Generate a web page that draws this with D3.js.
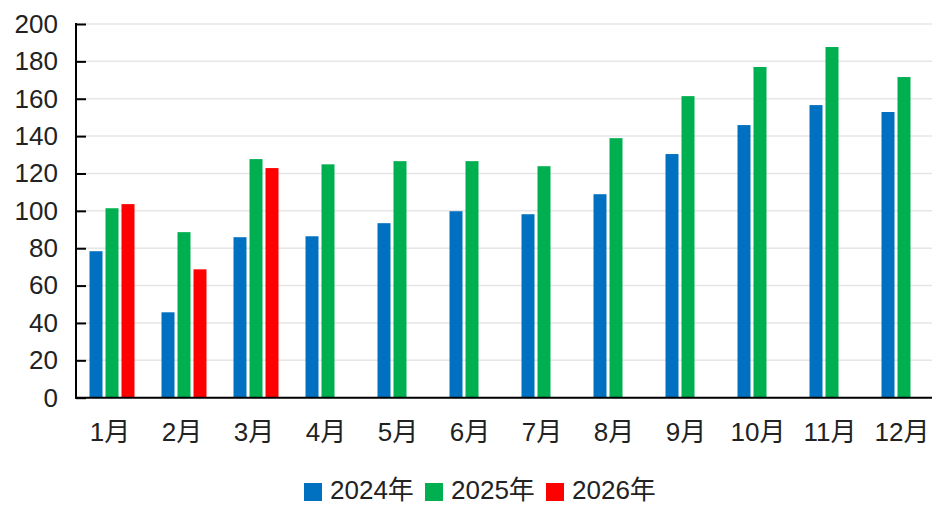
<!DOCTYPE html>
<html>
<head>
<meta charset="utf-8">
<script src="https://cdn.jsdelivr.net/npm/d3@7/dist/d3.min.js"></script>
<style>
  html, body { margin: 0; padding: 0; background: #fff; }
  svg { display: block; }
  text { font-family: "Liberation Sans", Arial, "Noto Sans CJK SC", sans-serif; fill: #222; }
</style>
</head>
<body>
<script>
const months = ["1月","2月","3月","4月","5月","6月","7月","8月","9月","10月","11月","12月"];
const seriesNames = ["2024年","2025年","2026年"];
const seriesColors = ["#0070C0","#00B050","#FF0000"];
const values2024 = [78.4, 45.7, 85.9, 86.4, 93.4, 99.8, 98.2, 108.9, 130.4, 145.9, 156.6, 152.9];
const values2025 = [101.4, 88.6, 127.7, 124.9, 126.6, 126.6, 123.9, 138.9, 161.4, 177.0, 187.7, 171.6];
const values2026 = [103.6, 68.7, 122.9, null, null, null, null, null, null, null, null, null];
const yTicks = [0, 20, 40, 60, 80, 100, 120, 140, 160, 180, 200];

const W = 932, H = 505;
const plotLeft = 76, plotTop = 24, plotBottom = 397.7, plotRight = 940;

const svg = d3.select("body").append("svg").attr("width", W).attr("height", H);

const y = d3.scaleLinear().domain([0, 200]).range([plotBottom, plotTop]);
const x0 = d3.scaleBand().domain(months).range([plotLeft, plotRight]).paddingInner(0).paddingOuter(0);
const x1 = d3.scaleBand().domain(seriesNames).range([13.5, 58.5]).paddingInner(3/16).paddingOuter(0);

// gridlines
svg.append("g").selectAll("line").data(yTicks.filter(d => d > 0)).join("line")
  .attr("x1", plotLeft).attr("x2", W)
  .attr("y1", d => y(d)).attr("y2", d => y(d))
  .attr("stroke", "#e6e6e6").attr("stroke-width", 1.5);

// bars
const seriesData = [values2024, values2025, values2026];
const flat = [];
seriesData.forEach((vals, si) => {
  vals.forEach((v, mi) => {
    if (v != null) flat.push({m: months[mi], s: seriesNames[si], v, c: seriesColors[si]});
  });
});
svg.append("g").selectAll("rect").data(flat).join("rect")
  .attr("x", d => x0(d.m) + x1(d.s))
  .attr("width", x1.bandwidth())
  .attr("y", d => y(d.v))
  .attr("height", d => y(0) - y(d.v))
  .attr("fill", d => d.c);

const fontFam = '"Liberation Sans", Arial, "Noto Sans CJK SC", sans-serif';

// y axis
const yAxis = d3.axisLeft(y).tickValues(yTicks).tickSizeInner(-10).tickSizeOuter(0).tickPadding(18);
const gy = svg.append("g").attr("transform", `translate(${plotLeft},0)`).call(yAxis);
gy.select(".domain").remove();
gy.selectAll(".tick line").attr("stroke", "#000").attr("stroke-width", 2);
gy.selectAll(".tick text").attr("font-size", 26).attr("fill", "#222").style("font-family", fontFam);
svg.append("line").attr("x1", plotLeft).attr("x2", plotLeft).attr("y1", plotTop - 1).attr("y2", plotBottom + 1)
  .attr("stroke", "#000").attr("stroke-width", 2);

// x axis
const xAxis = d3.axisBottom(x0).tickSize(0).tickPadding(25);
const gx = svg.append("g").attr("transform", `translate(-2,${plotBottom})`).call(xAxis);
gx.select(".domain").remove();
gx.selectAll(".tick text").attr("font-size", 26).attr("fill", "#222").style("font-family", fontFam);
svg.append("line").attr("x1", plotLeft - 1).attr("x2", W).attr("y1", plotBottom).attr("y2", plotBottom)
  .attr("stroke", "#000").attr("stroke-width", 2);

// legend
const legendX = [304, 425, 546];
const lg = svg.append("g");
seriesNames.forEach((name, i) => {
  lg.append("rect").attr("x", legendX[i]).attr("y", 483).attr("width", 18).attr("height", 18).attr("fill", seriesColors[i]);
  lg.append("text").attr("x", legendX[i] + 26).attr("y", 499).attr("font-size", 26).style("font-family", fontFam).text(name);
});
</script>
</body>
</html>
